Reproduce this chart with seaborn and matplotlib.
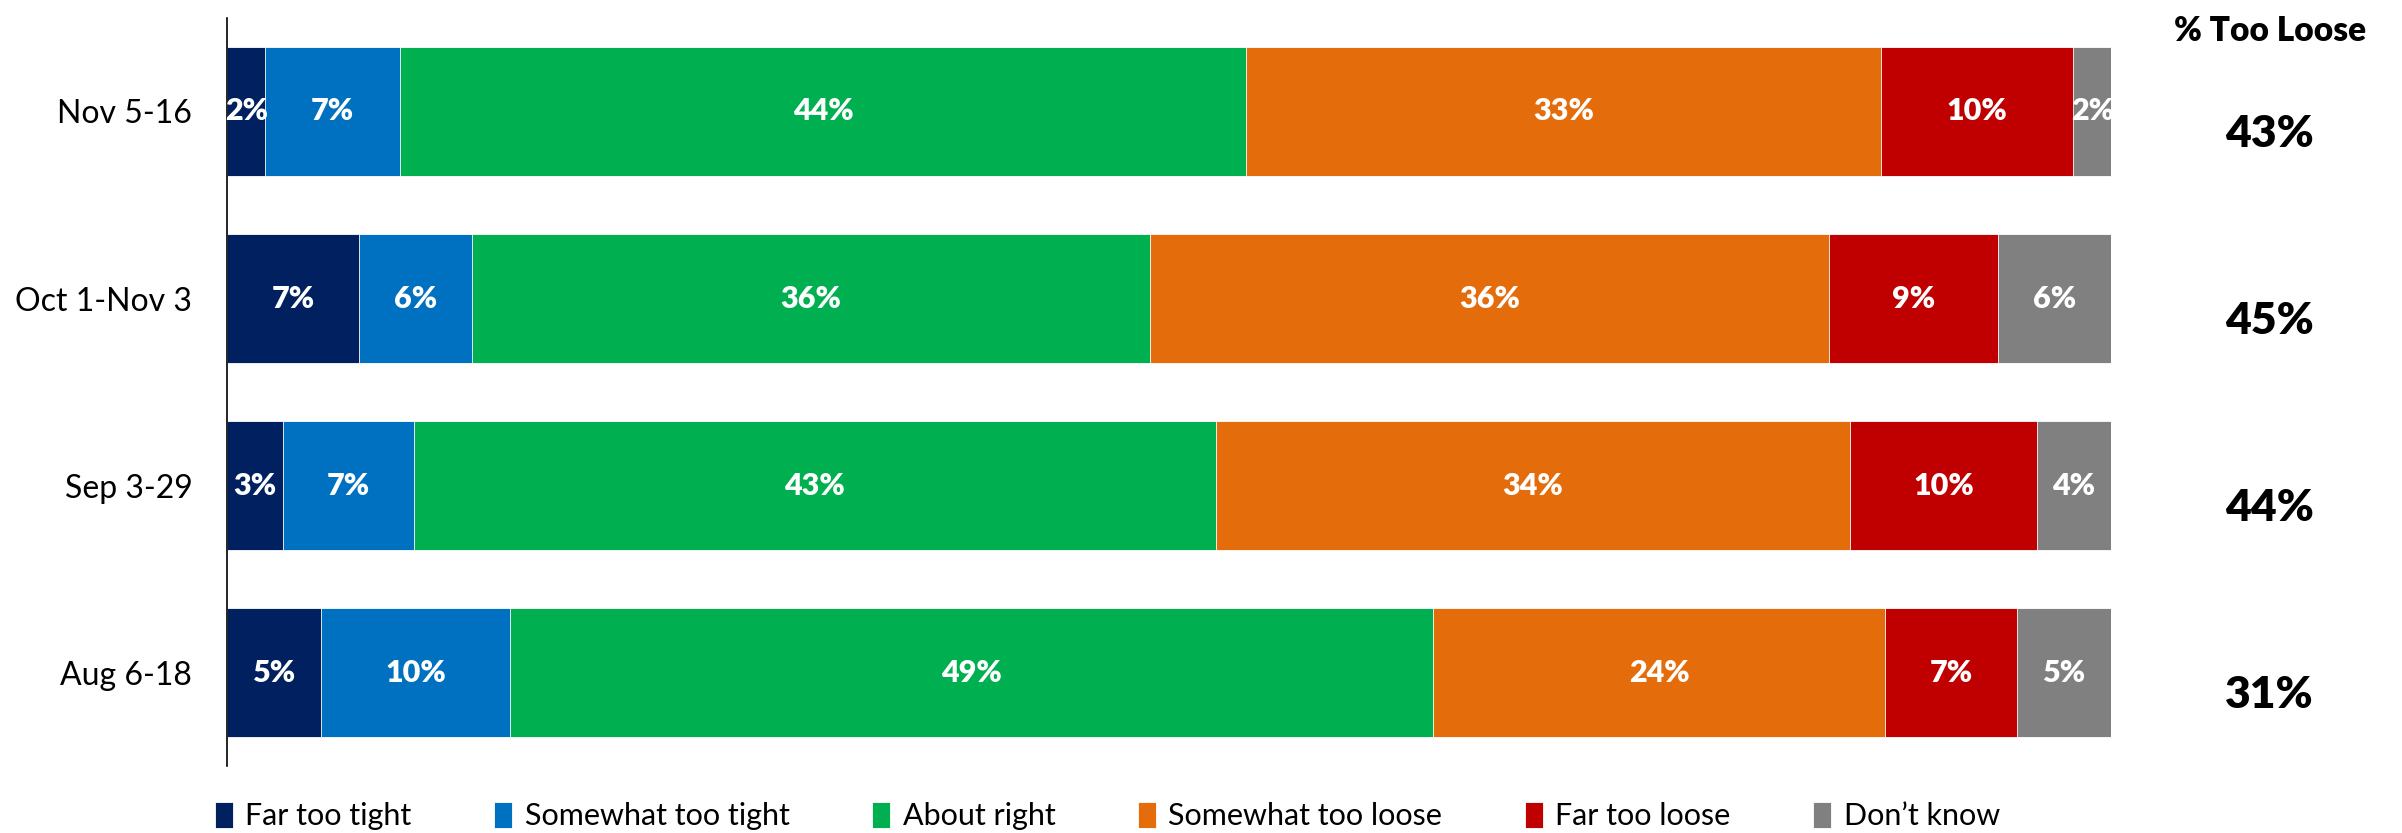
import numpy as np
import pandas as pd
import matplotlib
matplotlib.use('Agg')
import matplotlib.pyplot as plt
import seaborn as sns

# data
periods = ['Nov 5-16', 'Oct 1-Nov 3', 'Sep 3-29', 'Aug 6-18']
categories = ['Far too tight', 'Somewhat too tight', 'About right',
              'Somewhat too loose', 'Far too loose', 'Don\u2019t know']
far_too_tight = [2, 7, 3, 5]
somewhat_too_tight = [7, 6, 7, 10]
about_right = [44, 36, 43, 49]
somewhat_too_loose = [33, 36, 34, 24]
far_too_loose = [10, 9, 10, 7]
dont_know = [2, 6, 4, 5]

colors = ['#002060', '#0070C0', '#00B050', '#E46C0A', '#C00000', '#808080']

sns.set_theme(style='white')
plt.rcParams['font.family'] = ['Lato', 'DejaVu Sans']
plt.rcParams['text.color'] = 'black'
plt.rcParams['ytick.color'] = 'black'

df = pd.DataFrame({
    'period': periods,
    categories[0]: far_too_tight,
    categories[1]: somewhat_too_tight,
    categories[2]: about_right,
    categories[3]: somewhat_too_loose,
    categories[4]: far_too_loose,
    categories[5]: dont_know,
})

# bars fill the full width, so scale each row to its total
shares = df[categories].div(df[categories].sum(axis=1), axis=0)
cum = shares.cumsum(axis=1)
cum['period'] = periods

fig = plt.figure(figsize=(24.02, 8.33), dpi=100)
ax = fig.add_axes([0.0945, 0.0804, 0.7845, 0.898])

# stacked bars: draw cumulative totals from the right end back to the left
for cat, col in reversed(list(zip(categories, colors))):
    sns.barplot(data=cum, x=cat, y='period', order=periods, color=col,
                width=0.69, orient='h', ax=ax, label=cat,
                edgecolor='white', linewidth=0.6, saturation=1)

# segment labels
for i, p in enumerate(periods):
    left = 0
    for cat in categories:
        w = shares.loc[i, cat]
        ax.text(left + w / 2, i, f'{df.loc[i, cat]}%', ha='center', va='center',
                color='white', fontsize=22, fontweight='heavy')
        left += w

# % too loose column
too_loose = df['Somewhat too loose'] + df['Far too loose']
ax.text(1.084, -0.43, '% Too Loose', transform=ax.get_yaxis_transform(),
        ha='center', va='center', fontsize=24, fontweight='heavy', clip_on=False)
for i, v in enumerate(too_loose):
    ax.text(1.084, i + 0.12, f'{v}%', transform=ax.get_yaxis_transform(),
            ha='center', va='center', fontsize=32, fontweight='heavy', clip_on=False)

ax.set_xlim(0, 1)
ax.set_ylim(3.5, -0.5)
ax.set_xlabel('')
ax.set_ylabel('')
ax.set_xticks([])
ax.tick_params(axis='y', length=0, pad=25, labelsize=23)
for s in ['top', 'right', 'bottom']:
    ax.spines[s].set_visible(False)
ax.spines['left'].set_color('black')
ax.spines['left'].set_linewidth(1.2)

# legend in original category order
handles, labels = ax.get_legend_handles_labels()
order = [labels.index(c) for c in categories]
if ax.get_legend() is not None:
    ax.get_legend().remove()
fig.legend([handles[k] for k in order], [labels[k] for k in order],
           loc='lower left', bbox_to_anchor=(0.078, -0.03), ncol=6,
           frameon=False, fontsize=22, handlelength=0.6, handleheight=0.9,
           handletextpad=0.4, columnspacing=2.7)

fig.savefig('out.png', dpi=100)
